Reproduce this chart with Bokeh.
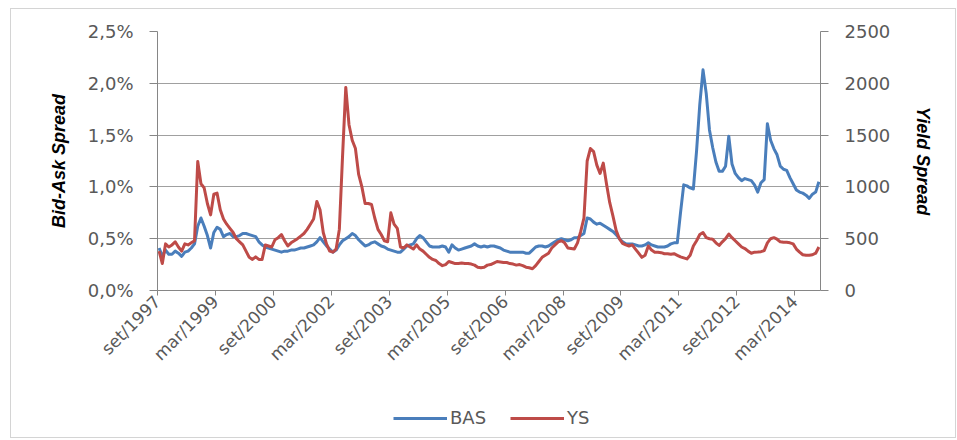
import math
from bokeh.plotting import figure
from bokeh.layouts import column
from bokeh.models import (Range1d, LinearAxis, FixedTicker, Legend, LegendItem,
                          ColumnDataSource)
from bokeh.embed import file_html
from bokeh.resources import INLINE

# ---- data (monthly, set/1997 .. out/2014) ----
tick_labels = ["set/1997", "mar/1999", "set/2000", "mar/2002", "set/2003", "mar/2005",
               "set/2006", "mar/2008", "set/2009", "mar/2011", "set/2012", "mar/2014"]

bas = [0.41, 0.33, 0.39, 0.35, 0.35, 0.38, 0.36, 0.33, 0.37, 0.38,
       0.41, 0.45, 0.62, 0.70, 0.62, 0.53, 0.41, 0.56, 0.61, 0.59,
       0.52, 0.54, 0.55, 0.52, 0.52, 0.53, 0.55, 0.55, 0.54, 0.53,
       0.52, 0.47, 0.44, 0.42, 0.41, 0.40, 0.39, 0.38, 0.37, 0.38,
       0.38, 0.39, 0.39, 0.40, 0.41, 0.41, 0.42, 0.43, 0.44, 0.47,
       0.51, 0.47, 0.43, 0.40, 0.37, 0.39, 0.44, 0.48, 0.50, 0.52,
       0.55, 0.53, 0.49, 0.46, 0.43, 0.44, 0.46, 0.47, 0.45, 0.43,
       0.42, 0.40, 0.39, 0.38, 0.37, 0.37, 0.40, 0.43, 0.44, 0.45,
       0.50, 0.53, 0.51, 0.47, 0.43, 0.42, 0.42, 0.42, 0.43, 0.42,
       0.37, 0.44, 0.41, 0.39, 0.40, 0.41, 0.42, 0.43, 0.45, 0.43,
       0.42, 0.43, 0.42, 0.43, 0.43, 0.42, 0.41, 0.39, 0.38, 0.37,
       0.37, 0.37, 0.37, 0.37, 0.36, 0.36, 0.39, 0.42, 0.43, 0.43,
       0.42, 0.43, 0.45, 0.47, 0.49, 0.50, 0.49, 0.48, 0.49, 0.51,
       0.51, 0.53, 0.55, 0.70, 0.69, 0.66, 0.64, 0.65, 0.63, 0.61,
       0.59, 0.57, 0.54, 0.50, 0.47, 0.45, 0.45, 0.45, 0.44, 0.43,
       0.43, 0.44, 0.46, 0.44, 0.43, 0.42, 0.42, 0.42, 0.43, 0.45,
       0.46, 0.46, 0.75, 1.02, 1.01, 0.99, 0.98, 1.35, 1.80, 2.13,
       1.90, 1.55, 1.38, 1.24, 1.15, 1.15, 1.20, 1.49, 1.22, 1.13,
       1.09, 1.06, 1.08, 1.07, 1.06, 1.02, 0.95, 1.04, 1.07, 1.61,
       1.45, 1.37, 1.31, 1.20, 1.17, 1.16, 1.09, 1.03, 0.97, 0.95,
       0.94, 0.92, 0.89, 0.93, 0.95, 1.05]

ys = [380, 260, 450, 420, 440, 470, 420, 380, 450, 440,
      460, 480, 1245, 1030, 990, 840, 730, 930, 940, 780,
      690, 640, 600, 560, 500, 470, 440, 380, 320, 300,
      325, 300, 300, 440, 430, 420, 490, 510, 540, 480,
      430, 460, 480, 500, 525, 550, 590, 640, 690, 860,
      780, 560, 450, 380, 370, 400, 590, 1300, 1960, 1600,
      1450, 1370, 1120, 1000, 840, 840, 830, 700, 590, 540,
      480, 470, 750, 640, 600, 420, 410, 440, 420, 400,
      440, 400, 380, 350, 320, 300, 290, 260, 240, 250,
      280, 270, 260, 260, 265, 260, 260, 255, 245, 225,
      220, 225, 245, 250, 265, 280, 275, 270, 270, 260,
      255, 245, 250, 240, 225, 220, 210, 240, 280, 320,
      340, 360, 410, 440, 470, 480, 460, 410, 405, 400,
      460, 570, 700, 1250, 1370, 1340, 1210, 1130, 1230, 1030,
      850, 720, 580, 500, 455, 440, 430, 440, 400, 360,
      320, 340, 430, 390, 370, 370, 365, 355, 355, 350,
      355, 340, 325, 315, 305, 340, 430, 480, 540, 560,
      510, 500, 495, 460, 435, 470, 500, 545, 510, 480,
      450, 420, 405, 380, 360, 370, 372, 375, 385, 460,
      500, 510, 495, 470, 465, 465, 460, 450, 400, 370,
      345, 340, 340, 345, 360, 420]

left_ticks = [0.0, 0.5, 1.0, 1.5, 2.0, 2.5]
left_labels = ["0,0%", "0,5%", "1,0%", "1,5%", "2,0%", "2,5%"]
right_ticks = [0, 500, 1000, 1500, 2000, 2500]
series_names = ["BAS", "YS"]
series_colors = ["#4a7ebb", "#be4b48"]

n = len(bas)
xs = [i + 0.5 for i in range(n)]
src = ColumnDataSource(dict(x=xs, bas=bas, ys=ys[:n]))

FONT = "DejaVu Sans"
LBL = "#595959"
AX = "#868686"
W = 944

p = figure(width=W, height=365, output_backend="svg", toolbar_location=None,
           x_range=Range1d(0, n), y_range=Range1d(0, 2.5),
           min_border_left=146, min_border_right=W - 146 - 663, min_border_top=22,
           min_border_bottom=74)
p.extra_y_ranges = {"ys": Range1d(0, 2500)}
p.outline_line_color = None
p.background_fill_color = "white"
p.border_fill_color = "white"

# grid
p.xgrid.visible = False
p.ygrid.ticker = FixedTicker(ticks=left_ticks)
p.ygrid.grid_line_color = "#a0a0a0"
p.ygrid.grid_line_width = 1

# bottom axis
xa = p.xaxis[0]
xa.ticker = FixedTicker(ticks=[18 * k for k in range(len(tick_labels))])
xa.major_label_overrides = {18 * k: lab for k, lab in enumerate(tick_labels)}
xa.major_label_orientation = math.pi / 4
xa.minor_tick_line_color = None
xa.major_tick_in = 0
xa.major_tick_out = 5
xa.axis_line_color = AX
xa.major_tick_line_color = AX
xa.major_label_text_font = FONT
xa.major_label_text_font_size = "17px"
xa.major_label_text_color = LBL
xa.major_label_standoff = 3

# left axis
ya = p.yaxis[0]
ya.ticker = FixedTicker(ticks=left_ticks)
ya.major_label_overrides = {t: l for t, l in zip(left_ticks, left_labels)}
ya.minor_tick_line_color = None
ya.major_tick_in = 0
ya.major_tick_out = 8
ya.axis_line_color = AX
ya.major_tick_line_color = AX
ya.major_label_text_font = FONT
ya.major_label_text_font_size = "18px"
ya.major_label_text_color = LBL
ya.major_label_standoff = 16
ya.axis_label = "Bid-Ask Spread"
ya.axis_label_text_font = "Liberation Sans"
ya.axis_label_text_font_style = "bold italic"
ya.axis_label_text_font_size = "18px"
ya.axis_label_text_color = "#000000"
ya.axis_label_standoff = 16

# right axis
ra = LinearAxis(y_range_name="ys", ticker=FixedTicker(ticks=right_ticks))
ra.minor_tick_line_color = None
ra.major_tick_in = 0
ra.major_tick_out = 8
ra.axis_line_color = AX
ra.major_tick_line_color = AX
ra.major_label_text_font = FONT
ra.major_label_text_font_size = "18px"
ra.major_label_text_color = LBL
ra.major_label_standoff = 16
ra.axis_label = "Yield Spread"
ra.axis_label_text_font = "Liberation Sans"
ra.axis_label_text_font_style = "bold italic"
ra.axis_label_text_font_size = "18px"
ra.axis_label_text_color = "#000000"
ra.axis_label_standoff = 20
p.add_layout(ra, "right")

# series
p.line("x", "bas", source=src, line_color=series_colors[0], line_width=3,
       line_join="round")
p.line("x", "ys", source=src, y_range_name="ys", line_color=series_colors[1],
       line_width=3, line_join="round")

# legend strip below the chart (legend only; its renderers hold no drawable data)
lg = figure(width=W, height=63, output_backend="svg", toolbar_location=None,
            x_range=Range1d(0, 1), y_range=Range1d(0, 1),
            x_axis_location=None, y_axis_location=None,
            min_border_left=0, min_border_right=0, min_border_top=0,
            min_border_bottom=0)
lg.outline_line_color = None
lg.xgrid.visible = False
lg.ygrid.visible = False
nodata = ColumnDataSource(dict(x=[float("nan")], y=[float("nan")]))
items = []
for name, col in zip(series_names, series_colors):
    r = lg.line("x", "y", source=nodata, line_color=col, line_width=3)
    items.append(LegendItem(label=name, renderers=[r]))
legend = Legend(items=items, orientation="horizontal", location=(236, 9),
                glyph_width=54, glyph_height=20, label_standoff=3, spacing=24,
                padding=0, margin=0, border_line_color=None,
                background_fill_alpha=0,
                label_text_font=FONT, label_text_font_size="18px",
                label_text_color=LBL)
lg.add_layout(legend, "center")

layout = column(p, lg, spacing=0)
layout.margin = (8, 0, 0, 10)
layout.styles = {"border": "1px solid #d4d4d4"}

open("out.html", "w").write(file_html(layout, INLINE))
